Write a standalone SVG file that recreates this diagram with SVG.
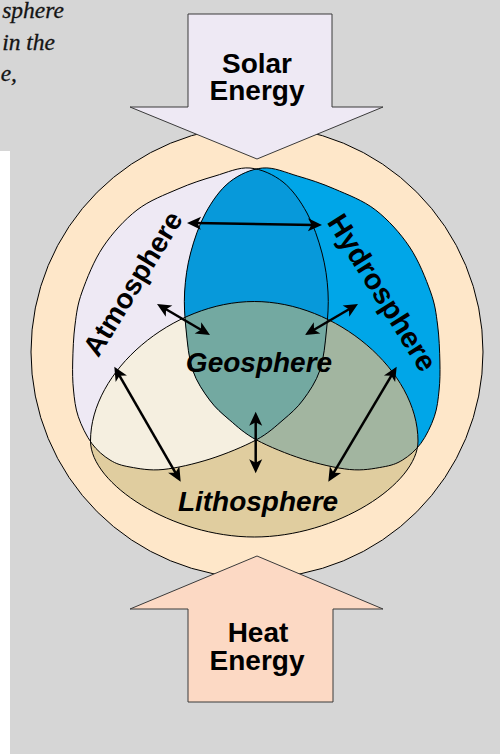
<svg xmlns="http://www.w3.org/2000/svg" xmlns:xlink="http://www.w3.org/1999/xlink" width="500" height="754" viewBox="0 0 500 754">
<style>
.ol{fill:none;stroke:#000;stroke-width:1}
.arrowbox{stroke:#3a3a3a;stroke-width:1}
.lbl{font-family:"Liberation Sans",Arial,sans-serif;font-weight:bold;font-size:28px;fill:#000}
.it{font-style:italic}
.cap{font-family:"Liberation Serif","Times New Roman",serif;font-style:italic;font-size:23.5px;fill:#141414;stroke:#141414;stroke-width:0.3;text-anchor:end}
.con{stroke:#000;stroke-width:2.5;fill:none;marker-start:url(#ah);marker-end:url(#ah)}
</style>
<defs>
<path id="atm" d="M72.7,362 C72.95,351.17 73.45,336.33 75,325 C76.55,313.33 77.33,305 82,292 C86.67,279 93.83,260.67 103,247 C112.17,233.33 124.5,219.67 137,210 C149.5,200.33 165,194.67 178,189 C191,183.33 203,179.5 215,176 C227,172.5 238.67,167 250,168 C261.33,169 273.5,174.5 283,182 C292.5,189.5 300.5,201.170 307,213 C313.5,224.83 318.5,239.83 322,253 C325.5,266.17 327.25,279.17 328,292 C328.75,304.83 327.83,317 326.5,330 C325.17,343 323.92,358.33 320,370 C316.08,381.67 309.17,391.67 303,400 C296.83,408.33 290.83,413.33 283,420 C275.17,426.67 268.17,433.5 256,440 C243.83,446.5 225.5,454.08 210,459 C194.5,463.92 176.33,468.17 163,469.5 C149.67,470.83 138.83,468.58 130,467 C121.17,465.42 116.38,463.95 110,460 C103.62,456.05 96.98,450.52 91.7,443.3 C86.42,436.08 81.33,425.58 78.3,416.7 C75.27,407.82 74.43,399.12 73.5,390 C72.57,380.88 72.45,372.83 72.7,362 Z"/>
<path id="lith" d="M90.5,441 C90.5,371 172.4,301.5 254.25,301.5 C336.1,301.5 418,371 418,441 C418,484 336.1,537 254.25,537 C172.4,537 90.5,484 90.5,441 Z"/>
<clipPath id="clipA"><use xlink:href="#atm"/></clipPath>
<clipPath id="clipH"><use xlink:href="#atm" transform="matrix(-1 0 0 1 512.6 0)"/></clipPath>
<marker id="ah" viewBox="-8 -7 17 14" markerWidth="17" markerHeight="14" refX="0" refY="0" orient="auto-start-reverse" markerUnits="userSpaceOnUse">
<path d="M8,0 L-6,-6.5 L-2.5,0 L-6,6.5 Z" fill="#000"/>
</marker>
</defs>

<rect x="0" y="0" width="500" height="754" fill="#d6d6d6"/>
<rect x="0" y="151" width="10" height="603" fill="#ffffff"/>

<g id="caption">
<text class="cap" x="64" y="18">sphere</text>
<text class="cap" x="55" y="50">in the</text>
<text class="cap" x="17" y="81">e,</text>
</g>

<g id="earth-system">
<circle cx="257" cy="352" r="226" fill="#fee7c9" stroke="#000" stroke-width="1"/>
</g>

<g id="atmosphere">
<use xlink:href="#atm" fill="#eee9f4"/>
</g>

<g id="hydrosphere">
<use xlink:href="#atm" transform="matrix(-1 0 0 1 512.6 0)" fill="#00a6e8"/>
</g>

<g id="lithosphere">
<use xlink:href="#lith" fill="#e0cd9f"/>
<use xlink:href="#lith" fill="#f5efe0" clip-path="url(#clipA)"/>
<use xlink:href="#lith" fill="#a2b5a0" clip-path="url(#clipH)"/>
</g>

<g id="geosphere">
<use xlink:href="#atm" fill="#0799da" clip-path="url(#clipH)"/>
<g clip-path="url(#clipA)"><use xlink:href="#lith" fill="#73a9a1" clip-path="url(#clipH)"/></g>
</g>

<g id="outlines">
<use xlink:href="#atm" class="ol"/>
<use xlink:href="#atm" class="ol" transform="matrix(-1 0 0 1 512.6 0)"/>
<use xlink:href="#lith" class="ol"/>
</g>

<g id="solar-energy">
<polygon class="arrowbox" points="188,14 332,14 332,107 383,107 257,159 130,107 188,107" fill="#eee9f4"/>
<text class="lbl" x="257" y="72.5" text-anchor="middle">Solar</text>
<text class="lbl" x="257" y="100" text-anchor="middle">Energy</text>
</g>

<g id="heat-energy">
<polygon class="arrowbox" points="188,702 333,702 333,609 383,609 257,556 130,609 188,609" fill="#fcd9c4"/>
<text class="lbl" x="258" y="642" text-anchor="middle">Heat</text>
<text class="lbl" x="257" y="670" text-anchor="middle">Energy</text>
</g>

<g id="connectors">
<line class="con" x1="195" y1="223.1" x2="314" y2="224.9"/>
<line class="con" x1="163.9" y1="308" x2="203.1" y2="331"/>
<line class="con" x1="351.1" y1="308" x2="311.9" y2="331"/>
<line class="con" x1="118.3" y1="373.6" x2="176.7" y2="474.8"/>
<line class="con" x1="392.6" y1="373.6" x2="332.4" y2="474.8"/>
<line class="con" x1="255.7" y1="419.7" x2="255.7" y2="465.3"/>
</g>

<g id="labels">
<text id="atmosphere-label" class="lbl" text-anchor="middle" transform="translate(141,288.7) rotate(-58.5)">Atmosphere</text>
<text id="hydrosphere-label" class="lbl" text-anchor="middle" style="font-size:29px" transform="translate(374,297.8) rotate(58)">Hydrosphere</text>
<text id="geosphere-label" class="lbl it" x="259" y="372" text-anchor="middle">Geosphere</text>
<text id="lithosphere-label" class="lbl it" x="258" y="511" text-anchor="middle">Lithosphere</text>
</g>
</svg>
